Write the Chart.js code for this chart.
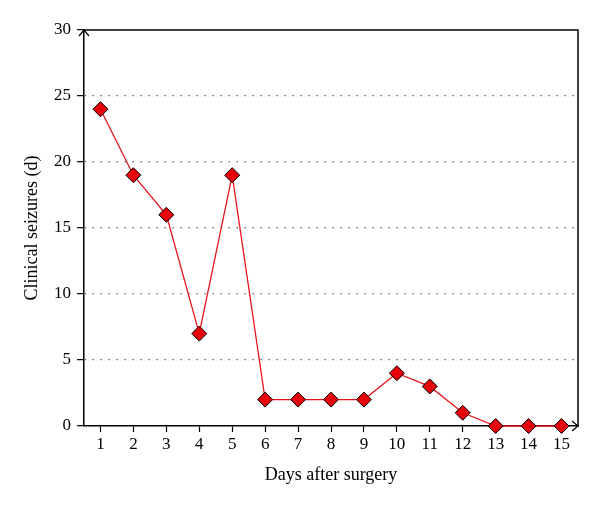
<!DOCTYPE html>
<html>
<head>
<meta charset="utf-8">
<script src="https://cdn.jsdelivr.net/npm/chart.js@4"></script>
<style>
  html, body { margin: 0; padding: 0; background: #fff; }
  #wrap { width: 600px; height: 508px; }
</style>
</head>
<body>
<div id="wrap"><canvas id="myChart" width="600" height="508"></canvas></div>
<script>
// Data
const days = ['1', '2', '3', '4', '5', '6', '7', '8', '9', '10', '11', '12', '13', '14', '15'];
const seizures = [24, 19, 16, 7, 19, 2, 2, 2, 2, 4, 3, 1, 0, 0, 0];
const yTicks = [0, 5, 10, 15, 20, 25, 30];

const serif = "'Liberation Serif', 'DejaVu Serif', serif";

// Box lines on top/right plus the little arrow heads on the axes
const frame = {
    id: 'frame',
    afterDraw(chart) {
        const { ctx, chartArea: a } = chart;
        ctx.save();
        ctx.strokeStyle = '#000';
        ctx.lineWidth = 1.5;
        ctx.beginPath();
        ctx.moveTo(a.left, a.top);
        ctx.lineTo(a.right, a.top);
        ctx.lineTo(a.right, a.bottom);
        ctx.stroke();
        ctx.lineWidth = 1.2;
        ctx.beginPath();
        // up arrow on y axis
        ctx.moveTo(a.left - 5, a.top + 6);
        ctx.lineTo(a.left, a.top);
        ctx.lineTo(a.left + 5, a.top + 6);
        // right arrow on x axis
        ctx.moveTo(a.right - 6, a.bottom - 5);
        ctx.lineTo(a.right, a.bottom);
        ctx.lineTo(a.right - 6, a.bottom + 5);
        ctx.stroke();
        ctx.restore();
    }
};

const ctx = document.getElementById('myChart').getContext('2d');
new Chart(ctx, {
    type: 'line',
    data: {
        labels: days,
        datasets: [{
            data: seizures,
            borderColor: '#e8141a',
            borderWidth: 1.3,
            backgroundColor: '#e8000a',
            pointStyle: 'rectRot',
            pointRadius: 7.5,
            pointBorderColor: '#000',
            pointBorderWidth: 1,
            tension: 0,
            clip: false
        }]
    },
    plugins: [frame],
    options: {
        responsive: false,
        animation: false,
        layout: { padding: { top: 30, right: 22, left: 0, bottom: 0 } },
        plugins: {
            legend: { display: false },
            tooltip: { enabled: false }
        },
        scales: {
            x: {
                offset: true,
                afterFit: (s) => { s.height = 82; },
                grid: {
                    offset: false,
                    drawOnChartArea: false,
                    drawTicks: true,
                    tickLength: 6,
                    tickColor: '#000',
                    tickWidth: 1.2
                },
                border: { color: '#000', width: 1.5 },
                ticks: { color: '#000', font: { family: serif, size: 17 }, padding: 2, maxRotation: 0 },
                title: {
                    display: true,
                    text: 'Days after surgery',
                    color: '#000',
                    font: { family: serif, size: 18 },
                    padding: { top: 0, bottom: 22 }
                }
            },
            y: {
                min: 0,
                max: 30,
                afterFit: (s) => { s.width = 84; },
                afterBuildTicks: (s) => { s.ticks = yTicks.map(v => ({ value: v })); },
                grid: {
                    color: (c) => (c.tick && (c.tick.value === 0 || c.tick.value === 30)) ? 'rgba(0,0,0,0)' : '#666',
                    lineWidth: 1.3,
                    drawTicks: true,
                    tickLength: 7,
                    tickColor: '#000',
                    tickWidth: 1.2,
                    tickBorderDash: []
                },
                border: { color: '#000', width: 1.5, dash: [1.5, 6.5] },
                ticks: { color: '#000', font: { family: serif, size: 17 }, padding: 6 },
                title: {
                    display: true,
                    text: 'Clinical seizures (d)',
                    color: '#000',
                    font: { family: serif, size: 18 },
                    padding: { top: 21, bottom: 0 }
                }
            }
        }
    }
});
</script>
</body>
</html>
